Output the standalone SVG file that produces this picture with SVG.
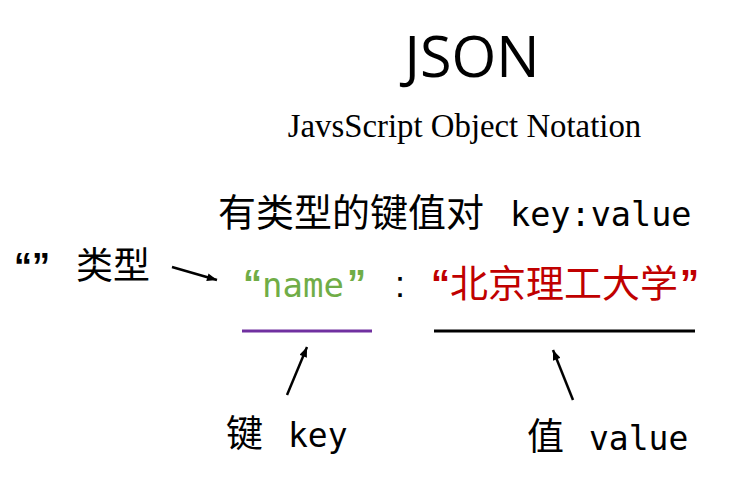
<svg xmlns="http://www.w3.org/2000/svg" width="732" height="495" viewBox="0 0 732 495">
<defs>
<marker id="ah" viewBox="0 0 10 8" refX="10" refY="4" markerWidth="11" markerHeight="8" orient="auto" markerUnits="userSpaceOnUse">
<path d="M0,0 L10,4 L0,8 z" fill="#000"/>
</marker>
</defs>
<style>
.cjk{font-family:"Noto Sans CJK SC","Noto Sans CJK JP",sans-serif}
.mono{font-family:"DejaVu Sans Mono",monospace}
.q{font-family:"Liberation Sans",Arial,sans-serif;font-weight:bold}
.conn{stroke:#000;stroke-width:2.5;fill:none;marker-end:url(#ah)}
.green{fill:#70AD47}
.red{fill:#C00000}
</style>
<rect width="732" height="495" fill="#fff"/>
<g id="title"><text x="472" y="77" text-anchor="middle" font-family="'Open Sans','Noto Sans',sans-serif" font-size="57.5" fill="#000">JSON</text></g>
<g id="subtitle"><text x="464.5" y="137" text-anchor="middle" font-family="'Liberation Serif','Times New Roman',serif" font-size="32.8" fill="#000">JavsScript Object Notation</text></g>
<g id="heading"><text y="226" font-size="38" fill="#000"><tspan class="cjk" x="218">有类型的键值对</tspan><tspan class="mono" x="510" font-size="33.5">key:value</tspan></text></g>
<g id="type-label"><text y="279" fill="#000"><tspan class="q" x="14" font-size="36">“”</tspan><tspan class="cjk" x="76" font-size="37" font-weight="normal">类型</tspan></text></g>
<g id="key-text"><text y="297" class="green"><tspan class="q" x="243" font-size="38">“</tspan><tspan class="mono" x="262" font-size="34">name</tspan><tspan class="q" x="347" font-size="38">”</tspan></text></g>
<g id="colon"><text x="395" y="297" font-family="'Liberation Sans',Arial,sans-serif" font-size="36" fill="#000">:</text></g>
<g id="value-text"><text y="297" class="red"><tspan class="q" x="431" font-size="38">“</tspan><tspan class="cjk" x="450" font-size="38">北京理工大学</tspan><tspan class="q" x="680" font-size="38">”</tspan></text></g>
<g id="key-underline"><line x1="242" y1="331" x2="372" y2="331" stroke="#7030A0" stroke-width="3"/></g>
<g id="value-underline"><line x1="434" y1="331" x2="695" y2="331" stroke="#000" stroke-width="3"/></g>
<g id="key-label"><text y="447" fill="#000"><tspan class="cjk" x="226" font-size="37">键</tspan><tspan class="mono" x="288" font-size="33">key</tspan></text></g>
<g id="value-label"><text y="450" fill="#000"><tspan class="cjk" x="527" font-size="37">值</tspan><tspan class="mono" x="589" font-size="33">value</tspan></text></g>
<g id="connectors">
<line class="conn" x1="172" y1="267" x2="217" y2="280"/>
<line class="conn" x1="287" y1="395" x2="307" y2="347"/>
<line class="conn" x1="573" y1="400" x2="553" y2="350"/>
</g>
</svg>
